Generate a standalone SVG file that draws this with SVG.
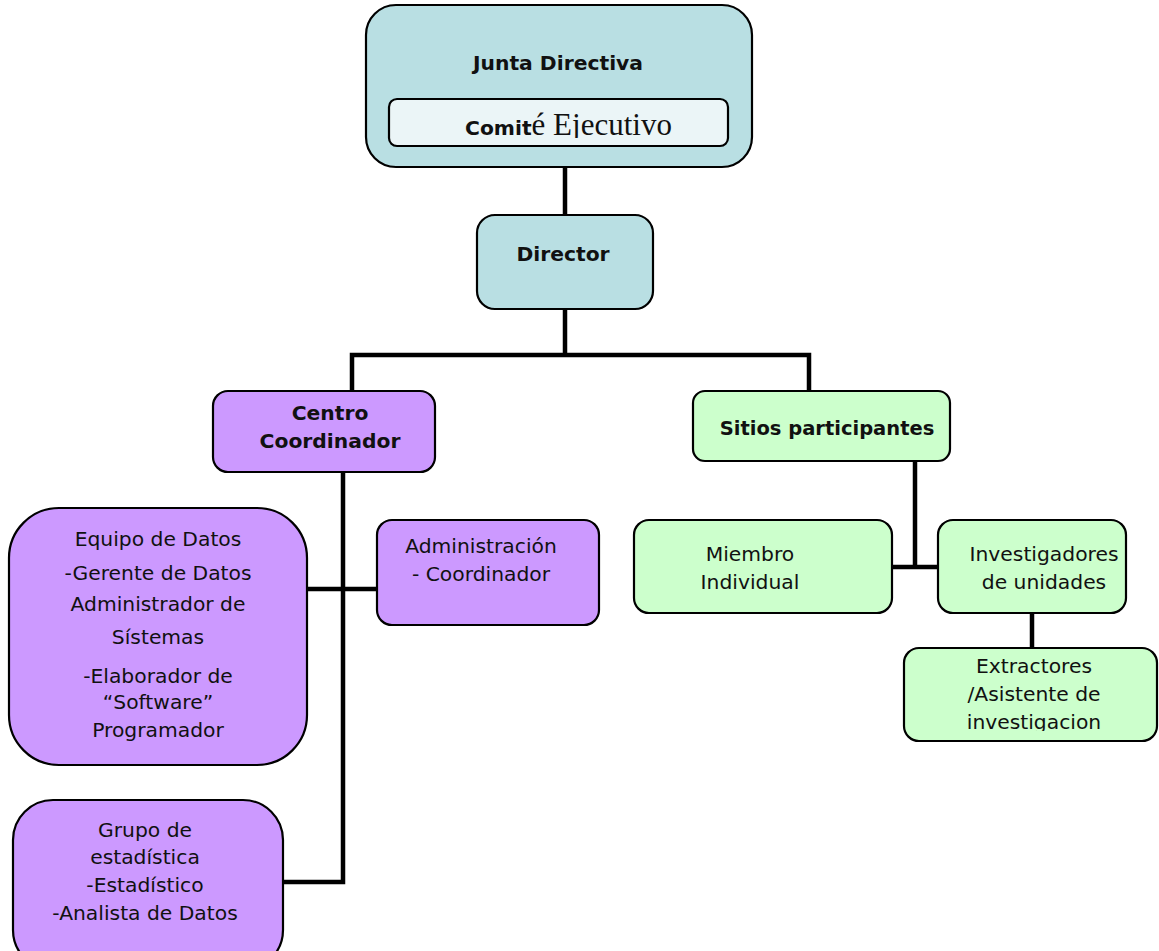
<svg xmlns="http://www.w3.org/2000/svg" width="1159" height="951" viewBox="0 0 1159 951">
<style>
.box{stroke:#000;stroke-width:2.2}
.teal{fill:#B9DFE3}
.purple{fill:#CC99FF}
.green{fill:#CCFFCC}
.t{font-family:"DejaVu Sans","Liberation Sans",sans-serif;font-size:20.3px;fill:#111;text-anchor:middle}
.b{font-weight:bold}
.conn{stroke:#000;stroke-width:4.5;fill:none}
</style>
<defs>
<clipPath id="clipCE"><rect x="389" y="99" width="339" height="39"/></clipPath>
<clipPath id="clipEx"><rect x="904" y="648" width="253" height="83"/></clipPath>
</defs>
<g id="connectors">
<line class="conn" x1="565" y1="167" x2="565" y2="215"/>
<line class="conn" x1="565" y1="309" x2="565" y2="355"/>
<polyline class="conn" points="352,391 352,355 809,355 809,391"/>
<polyline class="conn" points="343,472 343,882 284,882"/>
<line class="conn" x1="307" y1="589" x2="377" y2="589"/>
<line class="conn" x1="915" y1="461" x2="915" y2="567"/>
<line class="conn" x1="892" y1="567" x2="938" y2="567"/>
<line class="conn" x1="1032" y1="613" x2="1032" y2="648"/>
</g>
<g id="junta">
<rect class="box teal" x="366" y="5" width="386" height="162" rx="30"/>
<text class="t b" x="558" y="70">Junta Directiva</text>
<rect class="box" fill="#EBF5F7" x="389" y="99" width="339" height="47" rx="8"/>
<text clip-path="url(#clipCE)" x="465" y="135" style="font-family:'Liberation Serif',serif;font-size:31px;fill:#111"><tspan style="font-family:'DejaVu Sans',sans-serif;font-size:20.3px;font-weight:bold">Comit</tspan>é Ejecutivo</text>
</g>
<g id="director">
<rect class="box teal" x="477" y="215" width="176" height="94" rx="18"/>
<text class="t b" x="563" y="261">Director</text>
</g>
<g id="centro">
<rect class="box purple" x="213" y="391" width="222" height="81" rx="15"/>
<text class="t b" x="330" y="420">Centro</text>
<text class="t b" x="330" y="448">Coordinador</text>
</g>
<g id="sitios">
<rect class="box green" x="693" y="391" width="257" height="70" rx="12"/>
<text class="t b" x="827" y="435" style="font-size:19.5px">Sitios participantes</text>
</g>
<g id="equipo">
<rect class="box purple" x="9" y="508" width="298" height="257" rx="50"/>
<text class="t" x="158" y="546">Equipo de Datos</text>
<text class="t" x="158" y="580">-Gerente de Datos</text>
<text class="t" x="158" y="611">Administrador de</text>
<text class="t" x="158" y="644">Sístemas</text>
<text class="t" x="158" y="683">-Elaborador de</text>
<text class="t" x="158" y="709">“Software”</text>
<text class="t" x="158" y="737">Programador</text>
</g>
<g id="administracion">
<rect class="box purple" x="377" y="520" width="222" height="105" rx="15"/>
<text class="t" x="481" y="553">Administración</text>
<text class="t" x="481" y="581">- Coordinador</text>
</g>
<g id="grupo">
<rect class="box purple" x="13" y="800" width="270" height="170" rx="40"/>
<text class="t" x="145" y="837">Grupo de</text>
<text class="t" x="145" y="864">estadística</text>
<text class="t" x="145" y="892">-Estadístico</text>
<text class="t" x="145" y="920">-Analista de Datos</text>
</g>
<g id="miembro">
<rect class="box green" x="634" y="520" width="258" height="93" rx="15"/>
<text class="t" x="750" y="561">Miembro</text>
<text class="t" x="750" y="589">Individual</text>
</g>
<g id="investigadores">
<rect class="box green" x="938" y="520" width="188" height="93" rx="15"/>
<text class="t" x="1044" y="561">Investigadores</text>
<text class="t" x="1044" y="589">de unidades</text>
</g>
<g id="extractores">
<rect class="box green" x="904" y="648" width="253" height="93" rx="15"/>
<g clip-path="url(#clipEx)">
<text class="t" x="1034" y="673">Extractores</text>
<text class="t" x="1034" y="701">/Asistente de</text>
<text class="t" x="1034" y="729">investigacion</text>
</g>
</g>
</svg>
